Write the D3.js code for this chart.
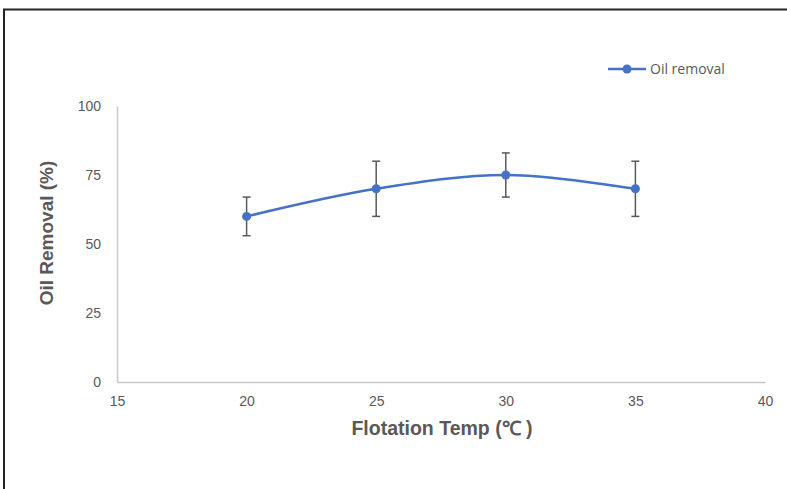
<!DOCTYPE html>
<html>
<head>
<meta charset="utf-8">
<script src="https://cdn.jsdelivr.net/npm/d3@7"></script>
<style>
  body { margin: 0; background: #fff; }
  svg { display: block; font-family: "Open Sans", "Liberation Sans", Arial, sans-serif; }
</style>
</head>
<body>
<div id="chart"></div>
<script>
// data
const temps = [20, 25, 30, 35];
const removal = [60, 70, 75, 70];
const errors = [7, 10, 8, 10];
const xTicks = [15, 20, 25, 30, 35, 40];
const yTicks = [0, 25, 50, 75, 100];
const seriesName = "Oil removal";

const W = 787, H = 489;
const margin = {top: 106, right: 22, bottom: 107, left: 117};
const width = W - margin.left - margin.right;
const height = H - margin.top - margin.bottom;

const svg = d3.select("#chart").append("svg")
    .attr("width", W)
    .attr("height", H);

// outer frame (runs off the right and bottom edges)
svg.append("rect")
    .attr("x", 4).attr("y", 9.5)
    .attr("width", W + 10).attr("height", H + 10)
    .attr("fill", "none")
    .attr("stroke", "#222")
    .attr("stroke-width", 2);

const g = svg.append("g")
    .attr("transform", `translate(${margin.left},${margin.top})`);

const x = d3.scaleLinear().domain([15, 40]).range([0, width]);
const y = d3.scaleLinear().domain([0, 100]).range([height, 0]);

// axes
const xAxis = g.append("g")
    .attr("transform", `translate(0,${height})`)
    .call(d3.axisBottom(x).tickValues(xTicks).tickSize(0).tickPadding(14));
const yAxis = g.append("g")
    .call(d3.axisLeft(y).tickValues(yTicks).tickSize(0).tickPadding(16));

[xAxis, yAxis].forEach(a => {
    a.select(".domain").attr("stroke", "#c8c8c8").attr("stroke-width", 1.5);
    a.selectAll("text").attr("fill", "#595959").style("font-size", "14px");
});

// axis titles
svg.append("text")
    .attr("x", 442).attr("y", 435)
    .attr("text-anchor", "middle")
    .attr("fill", "#595959")
    .style("font-family", "'Liberation Sans', Arial, sans-serif")
    .style("font-size", "19.5px")
    .style("font-weight", "bold")
    .text("Flotation Temp (℃ )");

svg.append("text")
    .attr("transform", "translate(53,233) rotate(-90)")
    .attr("text-anchor", "middle")
    .attr("fill", "#595959")
    .style("font-family", "'Liberation Sans', Arial, sans-serif")
    .style("font-size", "19px")
    .style("font-weight", "bold")
    .text("Oil Removal (%)");

const data = temps.map((t, i) => ({t, v: removal[i], e: errors[i]}));

// smoothed line
g.append("path")
    .datum(data)
    .attr("fill", "none")
    .attr("stroke", "#4472c4")
    .attr("stroke-width", 2.5)
    .attr("d", d3.line().x(d => x(d.t)).y(d => y(d.v)).curve(d3.curveCatmullRom.alpha(0.5)));

// error bars
const eb = g.selectAll(".err").data(data).join("g").attr("class", "err")
    .attr("stroke", "#595959").attr("stroke-width", 1.5);
eb.append("line")
    .attr("x1", d => x(d.t)).attr("x2", d => x(d.t))
    .attr("y1", d => y(d.v + d.e)).attr("y2", d => y(d.v - d.e));
eb.append("line")
    .attr("x1", d => x(d.t) - 4).attr("x2", d => x(d.t) + 4)
    .attr("y1", d => y(d.v + d.e)).attr("y2", d => y(d.v + d.e));
eb.append("line")
    .attr("x1", d => x(d.t) - 4).attr("x2", d => x(d.t) + 4)
    .attr("y1", d => y(d.v - d.e)).attr("y2", d => y(d.v - d.e));

// markers
g.selectAll(".pt").data(data).join("circle")
    .attr("class", "pt")
    .attr("cx", d => x(d.t)).attr("cy", d => y(d.v))
    .attr("r", 4.5)
    .attr("fill", "#4472c4");

// legend
const lg = svg.append("g").attr("transform", "translate(608,69)");
lg.append("line").attr("x1", 0).attr("x2", 38).attr("y1", 0).attr("y2", 0)
    .attr("stroke", "#4472c4").attr("stroke-width", 2.5);
lg.append("circle").attr("cx", 19).attr("cy", 0).attr("r", 4.5).attr("fill", "#4472c4");
lg.append("text").attr("x", 42).attr("y", 5)
    .attr("fill", "#595959").style("font-size", "14px")
    .text(seriesName);
</script>
</body>
</html>
